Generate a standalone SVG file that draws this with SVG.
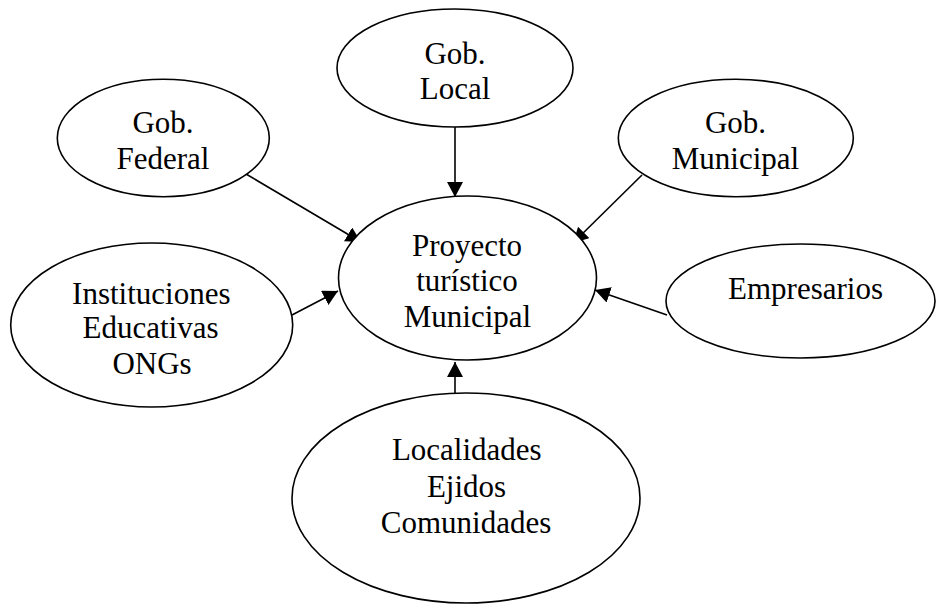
<svg xmlns="http://www.w3.org/2000/svg" width="936" height="605" viewBox="0 0 936 605">
<style>
.n ellipse{fill:#fff;stroke:#000;stroke-width:1.6}
.n text{font-family:"Liberation Serif","Times New Roman",serif;font-size:31px;fill:#000;text-anchor:middle}
.c line{stroke:#000;stroke-width:1.6;marker-end:url(#ah)}
</style>
<defs>
<marker id="ah" markerUnits="userSpaceOnUse" markerWidth="16" markerHeight="16" viewBox="0 0 16 16" refX="15" refY="8" orient="auto">
<path d="M0,0 L15,8 L0,16 Z" fill="#000"/>
</marker>
</defs>
<g class="c" id="connectors">
<line x1="455" y1="127" x2="455" y2="197"/>
<line x1="246" y1="174" x2="361" y2="242"/>
<line x1="642" y1="175" x2="573" y2="243"/>
<line x1="292" y1="315" x2="338" y2="291"/>
<line x1="667" y1="315" x2="595" y2="290"/>
<line x1="455" y1="393" x2="455" y2="362"/>
</g>
<g class="n" id="gob-local">
<ellipse cx="455" cy="68" rx="118" ry="59"/>
<text x="455" y="64">Gob.</text>
<text x="455" y="99">Local</text>
</g>
<g class="n" id="gob-federal">
<ellipse cx="163.3" cy="138" rx="106" ry="58.7"/>
<text x="163" y="132.7">Gob.</text>
<text x="163" y="169">Federal</text>
</g>
<g class="n" id="gob-municipal">
<ellipse cx="735.8" cy="138" rx="117.5" ry="58.7"/>
<text x="735.5" y="132.7">Gob.</text>
<text x="735.5" y="169">Municipal</text>
</g>
<g class="n" id="proyecto">
<ellipse cx="467.5" cy="278" rx="129" ry="82"/>
<text x="467" y="255.7">Proyecto</text>
<text x="467" y="291">turístico</text>
<text x="467.5" y="326.7">Municipal</text>
</g>
<g class="n" id="instituciones">
<ellipse cx="151.7" cy="325" rx="141" ry="82"/>
<text x="151.3" y="304">Instituciones</text>
<text x="150.5" y="338.3">Educativas</text>
<text x="152" y="374">ONGs</text>
</g>
<g class="n" id="empresarios">
<ellipse cx="800.5" cy="301" rx="134.5" ry="57"/>
<text x="805.5" y="299">Empresarios</text>
</g>
<g class="n" id="localidades">
<ellipse cx="466" cy="498" rx="174" ry="105"/>
<text x="466.8" y="460">Localidades</text>
<text x="466.5" y="496.7">Ejidos</text>
<text x="466" y="533.3">Comunidades</text>
</g>
</svg>
